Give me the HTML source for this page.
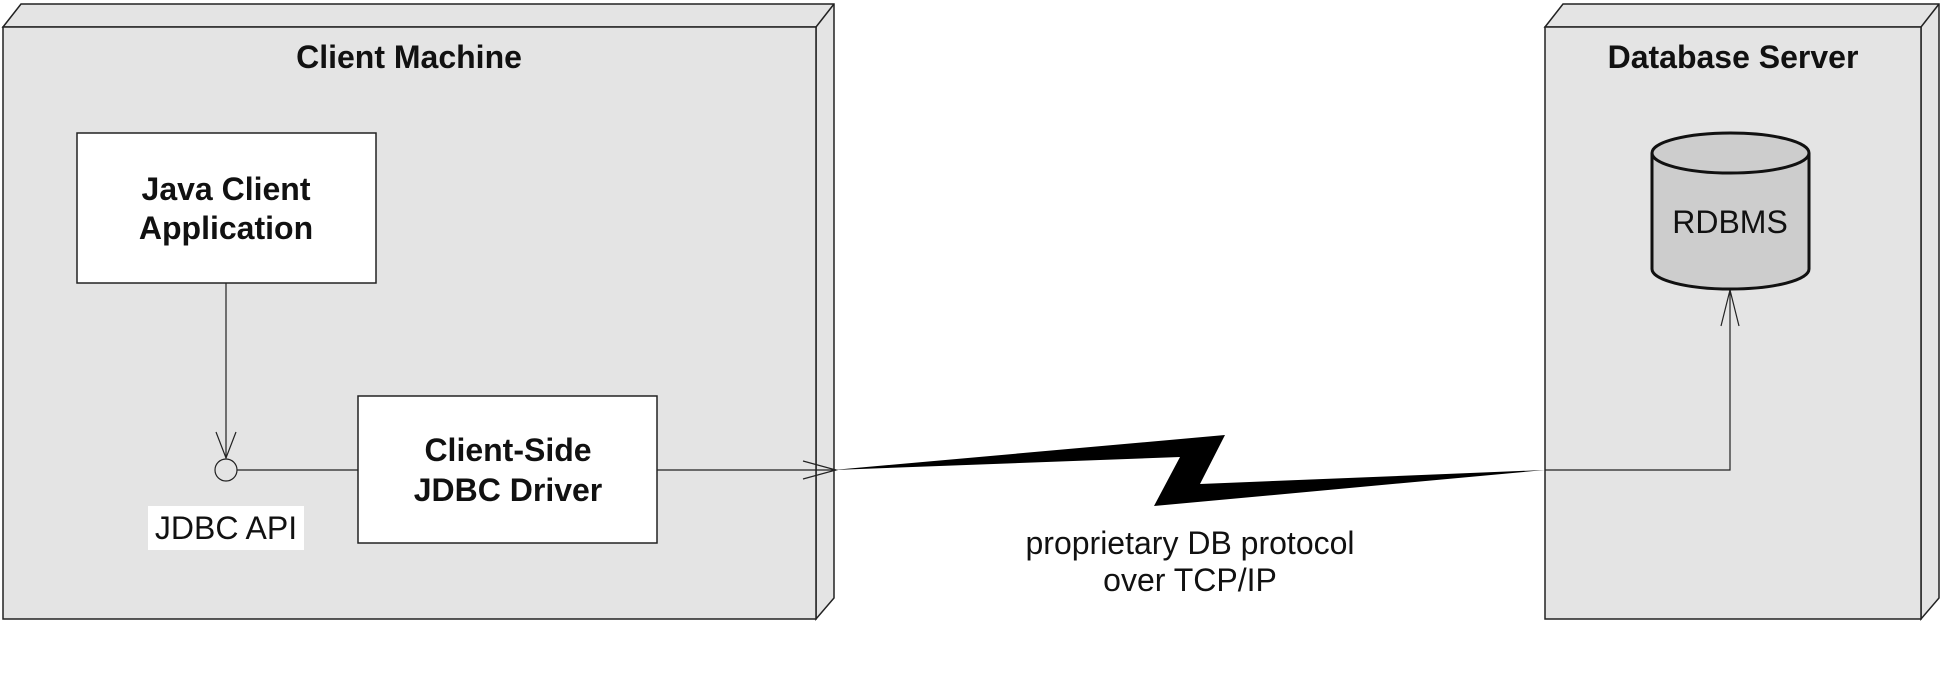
<!DOCTYPE html>
<html><head><meta charset="utf-8"><style>
html,body{margin:0;padding:0;background:#fff;}
svg{display:block;}
text{font-family:"Liberation Sans",Arial,sans-serif;fill:#111;}
.b{font-weight:bold;font-size:32px;}
.n{font-size:32px;}
</style></head><body>
<svg width="1944" height="677" viewBox="0 0 1944 677">
<g>
<polygon points="3,27 21,4 834,4 834,598 816,619 816,27" fill="#e4e4e4" stroke="#222" stroke-width="1.5"/>
<line x1="816" y1="27" x2="834" y2="4" stroke="#222" stroke-width="1.5"/>
<rect x="3" y="27" width="813" height="592" fill="#e4e4e4" stroke="#222" stroke-width="1.5"/>
<text class="b" x="409" y="68" text-anchor="middle">Client Machine</text>
</g>
<g>
<polygon points="1545,27 1563,4 1939,4 1939,598 1921,619 1921,27" fill="#e4e4e4" stroke="#222" stroke-width="1.5"/>
<line x1="1921" y1="27" x2="1939" y2="4" stroke="#222" stroke-width="1.5"/>
<rect x="1545" y="27" width="376" height="592" fill="#e4e4e4" stroke="#222" stroke-width="1.5"/>
<text class="b" x="1733" y="68" text-anchor="middle">Database Server</text>
</g>
<g>
<rect x="77" y="133" width="299" height="150" fill="#fff" stroke="#222" stroke-width="1.5"/>
<text class="b" x="226" y="200" text-anchor="middle">Java Client</text>
<text class="b" x="226" y="239" text-anchor="middle">Application</text>
</g>
<g stroke="#222" stroke-width="1.2" fill="none">
<line x1="226" y1="283" x2="226" y2="458"/>
<polyline points="216,432 226,458 236,432"/>
</g>
<circle cx="226" cy="470" r="11" fill="#e4e4e4" stroke="#222" stroke-width="1.2"/>
<line x1="237" y1="470" x2="358" y2="470" stroke="#222" stroke-width="1.2"/>
<rect x="148" y="506" width="156" height="44" fill="#fff"/>
<text class="n" x="226" y="539" text-anchor="middle">JDBC API</text>
<g>
<rect x="358" y="396" width="299" height="147" fill="#fff" stroke="#222" stroke-width="1.5"/>
<text class="b" x="508" y="461" text-anchor="middle">Client-Side</text>
<text class="b" x="508" y="501" text-anchor="middle">JDBC Driver</text>
</g>
<g stroke="#222" stroke-width="1.2" fill="none">
<line x1="657" y1="470" x2="836" y2="470"/>
<polyline points="803,461 836,470 803,479"/>
</g>
<polygon points="833,470 1225,435 1200,484 1545,470 1154,506 1180,457" fill="#000"/>
<g stroke="#222" stroke-width="1.2" fill="none">
<polyline points="1545,470 1730,470 1730,290"/>
<polyline points="1721,326 1730,290 1739,326"/>
</g>
<g>
<path d="M1652,153 L1652,269 A78.5,20 0 0 0 1809,269 L1809,153" fill="#cdcdcd" stroke="#111" stroke-width="3"/>
<ellipse cx="1730.5" cy="153" rx="78.5" ry="20" fill="#cdcdcd" stroke="#111" stroke-width="3"/>
<text class="n" x="1730" y="233" text-anchor="middle">RDBMS</text>
</g>
<text class="n" x="1190" y="554" text-anchor="middle">proprietary DB protocol</text>
<text class="n" x="1190" y="591" text-anchor="middle">over TCP/IP</text>
</svg>
</body></html>
